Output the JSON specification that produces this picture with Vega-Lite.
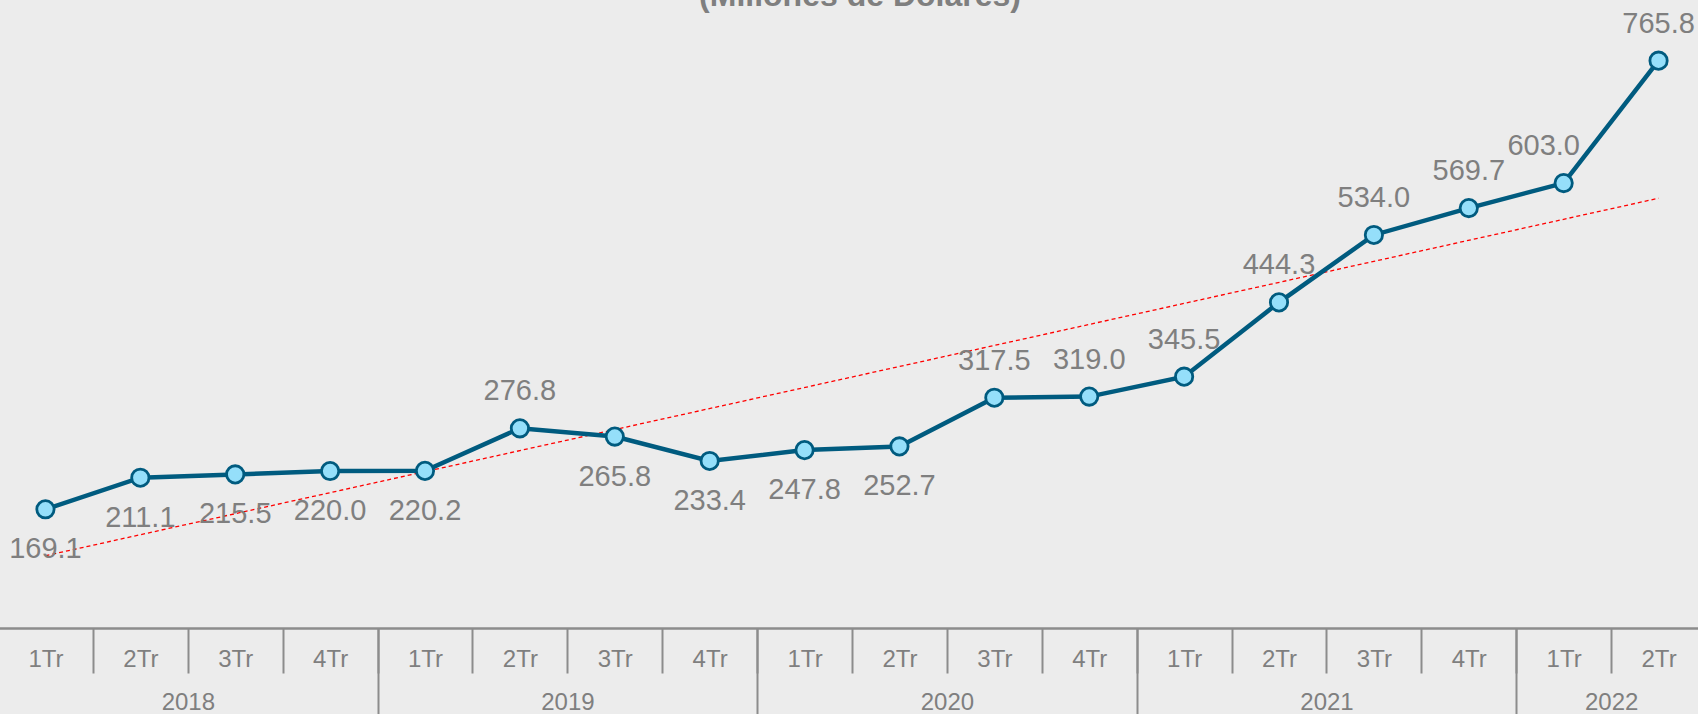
{
  "$schema": "https://vega.github.io/schema/vega-lite/v6.json",
  "autosize": {"type": "none"},
  "padding": {"left": -2, "top": 0, "right": -8, "bottom": 86},
  "width": 1708,
  "height": 628,
  "background": "#ececec",
  "config": {"view": {"stroke": null}, "font": "Liberation Sans"},
  "title": {"text": "(Millones de Dólares)", "fontSize": 32, "fontWeight": "bold", "color": "#7f7f7f", "font": "Liberation Sans", "anchor": "middle", "baseline": "alphabetic", "offset": 0, "dy": 38, "dx": 8},
  "data": {"values": [
    {"q": "2018-1", "value": 169.1},
    {"q": "2018-2", "value": 211.1},
    {"q": "2018-3", "value": 215.5},
    {"q": "2018-4", "value": 220.0},
    {"q": "2019-1", "value": 220.2},
    {"q": "2019-2", "value": 276.8},
    {"q": "2019-3", "value": 265.8},
    {"q": "2019-4", "value": 233.4},
    {"q": "2020-1", "value": 247.8},
    {"q": "2020-2", "value": 252.7},
    {"q": "2020-3", "value": 317.5},
    {"q": "2020-4", "value": 319.0},
    {"q": "2021-1", "value": 345.5},
    {"q": "2021-2", "value": 444.3},
    {"q": "2021-3", "value": 534.0},
    {"q": "2021-4", "value": 569.7},
    {"q": "2022-1", "value": 603.0},
    {"q": "2022-2", "value": 765.8}
  ]},
  "resolve": {"axis": {"x": "independent"}},
  "layer": [
    {
      "data": {"values": [{"q": "2018-1", "trend": 107.3}, {"q": "2022-2", "trend": 582.8}]},
      "mark": {"type": "line", "color": "#ff0000", "strokeWidth": 1.3, "strokeDash": [4, 3]},
      "encoding": {
        "x": {"field": "q", "type": "ordinal", "scale": {"paddingInner": 0, "paddingOuter": 0},
          "axis": {"orient": "bottom", "title": null, "domain": true, "domainColor": "#8c8c8c", "domainWidth": 2.5,
            "ticks": true, "tickBand": "extent", "tickSize": 45, "tickColor": "#8c8c8c", "tickWidth": 2,
            "labelExpr": "isString(datum.value) && indexof(datum.value, '-') > 0 ? split(datum.value, '-')[1] + 'Tr' : ''", "labelFontSize": 24, "labelColor": "#7f7f7f",
            "labelPadding": -26, "labelAngle": 0, "labelOverlap": false, "labelFont": "Liberation Sans"}},
        "y": {"field": "trend", "type": "quantitative", "scale": {"domain": [11.2, 846.5], "nice": false, "zero": false}, "axis": null}
      }
    },
    {
      "mark": {"type": "line", "color": "#005b7f", "strokeWidth": 4.5},
      "encoding": {
        "x": {"field": "q", "type": "ordinal",
          "axis": {"orient": "bottom", "title": null, "domain": false,
            "ticks": true, "tickBand": "extent", "tickSize": 86, "tickColor": "#8c8c8c", "tickWidth": 2,
            "tickOpacity": {"condition": {"test": "indexof(['2018-4','2019-4','2020-4','2021-4'], datum.value) >= 0", "value": 1}, "value": 0},
            "labelExpr": "indexof(['2018-2','2019-2','2020-2','2021-2','2022-1'], datum.value) >= 0 ? split(datum.value, '-')[0] : ''",
            "labelOffset": 47.5, "labelFontSize": 24, "labelColor": "#7f7f7f",
            "labelPadding": -24, "labelAngle": 0, "labelOverlap": false, "labelFont": "Liberation Sans"}},
        "y": {"field": "value", "type": "quantitative", "axis": null}
      }
    },
    {
      "mark": {"type": "point", "shape": "circle", "filled": true, "size": 300, "fill": "#95dffa", "stroke": "#005b7f", "strokeWidth": 2.8, "opacity": 1},
      "encoding": {
        "x": {"field": "q", "type": "ordinal", "axis": null},
        "y": {"field": "value", "type": "quantitative", "axis": null}
      }
    },
    {
      "transform": [{"filter": "datum.value < 270"}],
      "mark": {"type": "text", "fontSize": 29, "color": "#7f7f7f", "baseline": "middle", "dy": 40, "font": "Liberation Sans"},
      "encoding": {
        "x": {"field": "q", "type": "ordinal", "axis": null},
        "y": {"field": "value", "type": "quantitative", "axis": null},
        "text": {"field": "value", "type": "quantitative", "format": ".1f"}
      }
    },
    {
      "transform": [{"filter": "datum.value >= 270 && datum.q != '2022-1'"}],
      "mark": {"type": "text", "fontSize": 29, "color": "#7f7f7f", "baseline": "middle", "dy": -37, "font": "Liberation Sans"},
      "encoding": {
        "x": {"field": "q", "type": "ordinal", "axis": null},
        "y": {"field": "value", "type": "quantitative", "axis": null},
        "text": {"field": "value", "type": "quantitative", "format": ".1f"}
      }
    },
    {
      "transform": [{"filter": "datum.q == '2022-1'"}],
      "mark": {"type": "text", "fontSize": 29, "color": "#7f7f7f", "baseline": "middle", "dy": -37, "dx": -20, "font": "Liberation Sans"},
      "encoding": {
        "x": {"field": "q", "type": "ordinal", "axis": null},
        "y": {"field": "value", "type": "quantitative", "axis": null},
        "text": {"field": "value", "type": "quantitative", "format": ".1f"}
      }
    }
  ]
}
